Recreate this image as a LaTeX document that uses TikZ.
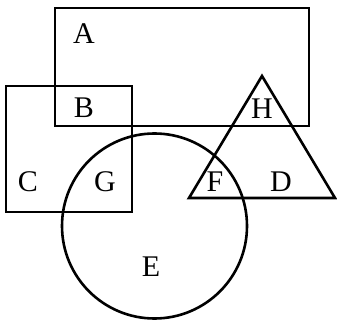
\documentclass[tikz,border=0pt]{standalone}
\usepackage{fontspec}
\setmainfont{Liberation Serif}
\begin{document}
\begin{tikzpicture}[x=1pt,y=-1pt,
  shape line/.style={draw=black,line width=2.6pt,line join=miter},
  lbl/.style={inner sep=0pt,font=\fontsize{30}{31}\selectfont}]
\useasboundingbox (0,0) rectangle (337,323);
% rectangle A
\draw[shape line] (55,8) rectangle (309,126);
% rectangle C
\draw[shape line] (6,86) rectangle (132,212);
% circle E
\draw[shape line] (154.5,226) circle[radius=92.5];
% triangle D
\draw[shape line] (262,76) -- (335,198) -- (189,198) -- cycle;
% labels
\node[lbl] (lA) at (84,34) {A};
\node[lbl] (lB) at (84,108) {B};
\node[lbl] (lH) at (262,109) {H};
\node[lbl] (lC) at (28,182) {C};
\node[lbl] (lG) at (105,182) {G};
\node[lbl] (lF) at (215,182) {F};
\node[lbl] (lD) at (281,182) {D};
\node[lbl] (lE) at (151,267) {E};
\end{tikzpicture}
\end{document}
